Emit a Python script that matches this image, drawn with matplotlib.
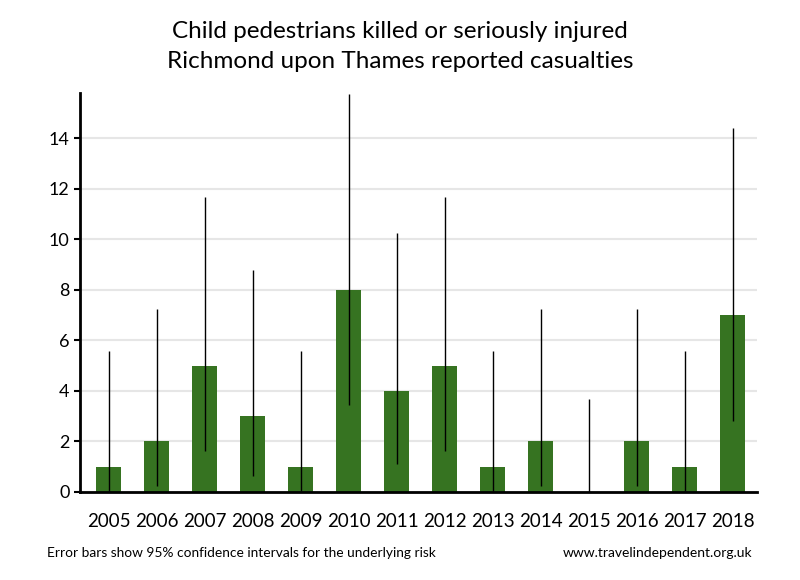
import matplotlib.pyplot as plt
import numpy as np

plt.rcParams['font.family'] = ['Lato', 'DejaVu Sans']

years = ['2005', '2006', '2007', '2008', '2009', '2010', '2011',
         '2012', '2013', '2014', '2015', '2016', '2017', '2018']
casualties = [1, 2, 5, 3, 1, 8, 4, 5, 1, 2, 0, 2, 1, 7]
ci_low = [0.03, 0.24, 1.62, 0.62, 0.03, 3.45, 1.09, 1.62, 0.03, 0.24, 0.0, 0.24, 0.03, 2.81]
ci_high = [5.57, 7.22, 11.67, 8.77, 5.57, 15.76, 10.24, 11.67, 5.57, 7.22, 3.69, 7.22, 5.57, 14.42]

fig = plt.figure(figsize=(8, 5.8), dpi=100)
ax = fig.add_axes([0.1, 0.152, 0.846, 0.688])

x = np.arange(len(years))
ax.bar(x, casualties, width=0.52, color='#367321', zorder=2)
ax.vlines(x, ci_low, ci_high, color='black', linewidth=1, zorder=3)

ax.set_xlim(-0.6, 13.5)
ax.set_ylim(0, 15.8)
ax.set_yticks(range(0, 16, 2))
ax.set_xticks(x)
ax.set_xticklabels(years)
ax.yaxis.grid(True, color='#e6e6e6', linewidth=1.5, zorder=0)
ax.set_axisbelow(True)

for s in ['top', 'right']:
    ax.spines[s].set_visible(False)
ax.spines['left'].set_linewidth(2)
ax.spines['bottom'].set_linewidth(2)
ax.tick_params(axis='x', length=0, pad=15, labelsize=13.5)
ax.tick_params(axis='y', length=4, width=1.5, labelsize=13)

fig.text(0.5, 0.946, 'Child pedestrians killed or seriously injured',
         ha='center', va='center', fontsize=17.5)
fig.text(0.5, 0.894, 'Richmond upon Thames reported casualties',
         ha='center', va='center', fontsize=17.5)
fig.text(0.059, 0.046, 'Error bars show 95% confidence intervals for the underlying risk',
         ha='left', va='center', fontsize=9.9)
fig.text(0.94, 0.046, 'www.travelindependent.org.uk',
         ha='right', va='center', fontsize=10)

fig.savefig('out.png', dpi=100)
